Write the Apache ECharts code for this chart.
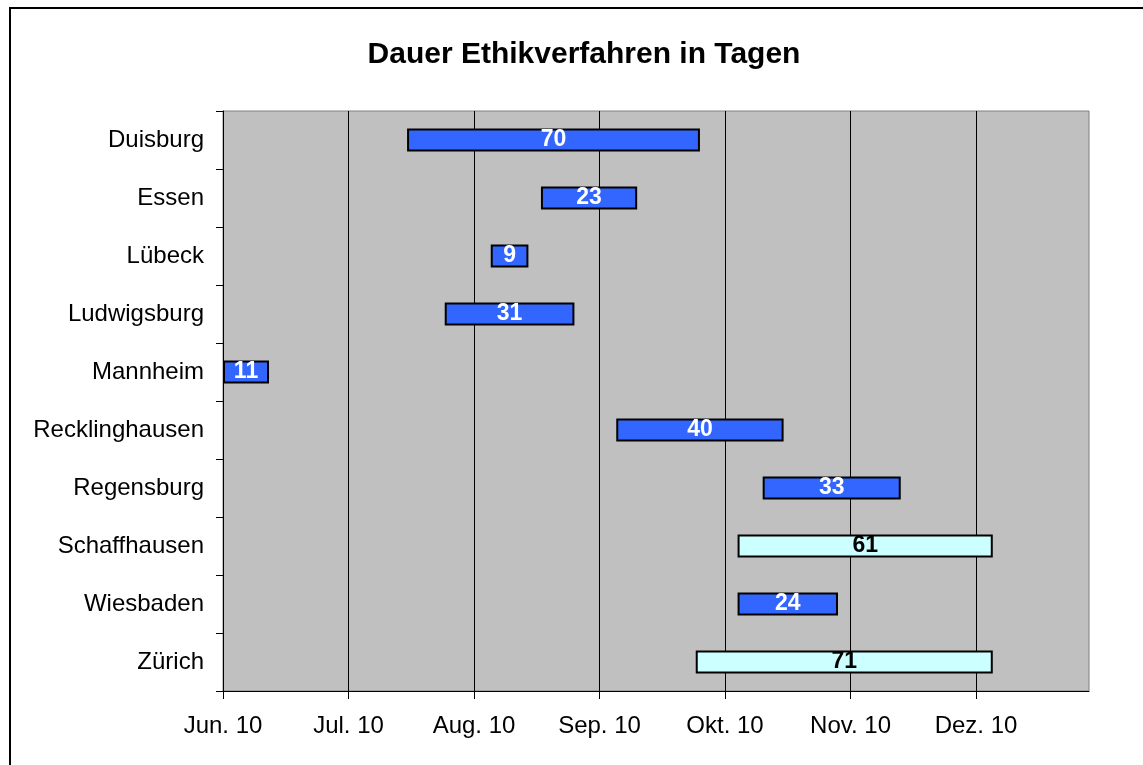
<!DOCTYPE html>
<html>
<head>
<meta charset="utf-8">
<script src="https://cdn.jsdelivr.net/npm/echarts@6/dist/echarts.min.js"></script>
<style>
html,body{margin:0;padding:0;background:#fff;}
#chart{width:1143px;height:765px;}
</style>
</head>
<body>
<div id="chart"></div>
<script>
// Categories (top to bottom)
const cities = ['Duisburg','Essen','Lübeck','Ludwigsburg','Mannheim','Recklinghausen','Regensburg','Schaffhausen','Wiesbaden','Zürich'];
// Start offset in days from Jun. 10 (axis origin)
const startDays = [44, 76, 64, 53, 0, 94, 129, 123, 123, 113];
// Duration in days
const durations = [70, 23, 9, 31, 11, 40, 33, 61, 24, 71];
// Which bars are highlighted (light cyan)
const highlight = [false,false,false,false,false,false,false,true,false,true];
// Month tick labels
const monthLabels = ['Jun. 10','Jul. 10','Aug. 10','Sep. 10','Okt. 10','Nov. 10','Dez. 10'];
const monthTicks = [0,30,60,90,120,150,180];

const FONT = '"Liberation Sans", Arial, sans-serif';

const chart = echarts.init(document.getElementById('chart'), null, {renderer:'canvas'});

const durData = durations.map((d,i)=>({
  value: d,
  itemStyle: { color: highlight[i] ? '#CCFFFF' : '#3366FF' },
  label: { color: highlight[i] ? '#000000' : '#FFFFFF' }
}));

chart.setOption({
  animation: false,
  backgroundColor: '#ffffff',
  graphic: [{
    type: 'rect',
    shape: { x: 10, y: 8, width: 1300, height: 900 },
    style: { fill: 'none', stroke: '#000', lineWidth: 2 },
    silent: true, z: 100
  }],
  title: {
    text: 'Dauer Ethikverfahren in Tagen',
    left: 579, top: 35, textAlign: 'center',
    textStyle: { fontFamily: FONT, fontSize: 30, fontWeight: 'bold', color: '#000' }
  },
  grid: {
    left: 223, top: 111, right: 54, bottom: 74,
    show: true, backgroundColor: '#C0C0C0', borderColor: '#808080', borderWidth: 1
  },
  xAxis: {
    type: 'value',
    min: 0, max: 207, interval: 30,
    axisLine: { show: true, lineStyle: { color: '#000', width: 1 } },
    axisTick: { show: true, length: 8, customValues: monthTicks, lineStyle: { color: '#000' } },
    splitLine: { show: true, lineStyle: { color: '#000', width: 1 } },
    axisLabel: {
      customValues: monthTicks,
      margin: 23,
      fontFamily: FONT, fontSize: 24, color: '#000',
      formatter: function (v) {
        const i = monthTicks.indexOf(Math.round(v));
        return i >= 0 ? monthLabels[i] : '';
      }
    }
  },
  yAxis: {
    type: 'category',
    data: cities,
    inverse: true,
    axisLine: { show: true, lineStyle: { color: '#000', width: 1 } },
    axisTick: { show: true, length: 7, lineStyle: { color: '#000' } },
    splitLine: { show: false },
    axisLabel: { margin: 19, fontFamily: FONT, fontSize: 24, color: '#000', padding: [3, 0, 0, 0] }
  },
  series: [
    {
      name: 'Start', type: 'bar', stack: 'g',
      data: startDays,
      itemStyle: { color: 'transparent' },
      emphasis: { disabled: true },
      barWidth: 23, silent: true
    },
    {
      name: 'Dauer', type: 'bar', stack: 'g',
      data: durData,
      barWidth: 23,
      itemStyle: { borderColor: '#000', borderWidth: 2 },
      label: {
        show: true, position: 'inside',
        fontFamily: FONT, fontSize: 23, fontWeight: 'bold',
        padding: [3, 0, 0, 0]
      }
    }
  ]
});
</script>
</body>
</html>
